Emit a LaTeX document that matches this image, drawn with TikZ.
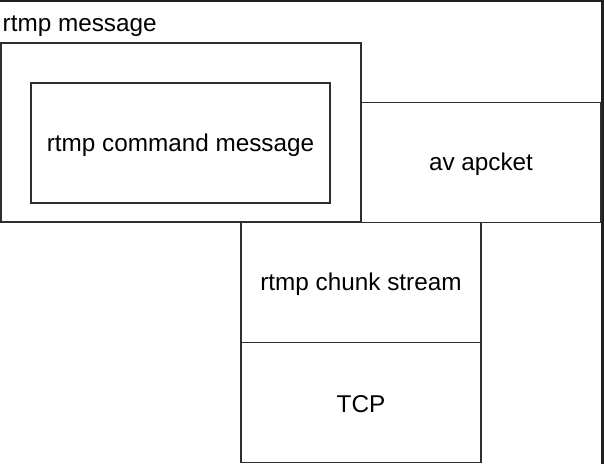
\documentclass[tikz,border=0pt]{standalone}
\usepackage{fontspec}
\setmainfont{Liberation Sans}
\tikzset{
  box/.style={draw=black!82, line width=1.6pt, minimum width=#1, inner sep=0pt, outer sep=0pt},
  txt/.style={inner sep=0pt, font=\fontsize{24.3}{28}\selectfont}
}
\begin{document}
\begin{tikzpicture}[x=1pt,y=-1pt]
\useasboundingbox (0,0) rectangle (604,464);
\fill[white] (0,0) rectangle (604,464);
% screenshot frame strips
\fill[black!88] (0,0) rectangle (604,2);
\fill[black!88] (601,0) rectangle (604,464);
\node[box=360pt, minimum height=179pt] (msg) at (181,132.5) {};
\node[box=299pt, minimum height=120pt] (cmd) at (180.5,143) {};
\node[box=240pt, minimum height=120pt] (av) at (481,162.5) {};
\node[box=240pt, minimum height=120pt] (chunk) at (361,282.5) {};
\node[box=240pt, minimum height=120pt] (tcp) at (361,402.5) {};
\node[txt] (cmdlbl) at ([yshift=-2pt]cmd.center) {rtmp command message};
\node[txt] (avlbl) at ([yshift=-2pt]av.center) {av apcket};
\node[txt] (chunklbl) at ([yshift=-2pt]chunk.center) {rtmp chunk stream};
\node[txt] (tcplbl) at ([yshift=-2pt]tcp.center) {TCP};
\node[txt, anchor=base west] (msglbl) at (2.5,31) {rtmp message};
\end{tikzpicture}
\end{document}
